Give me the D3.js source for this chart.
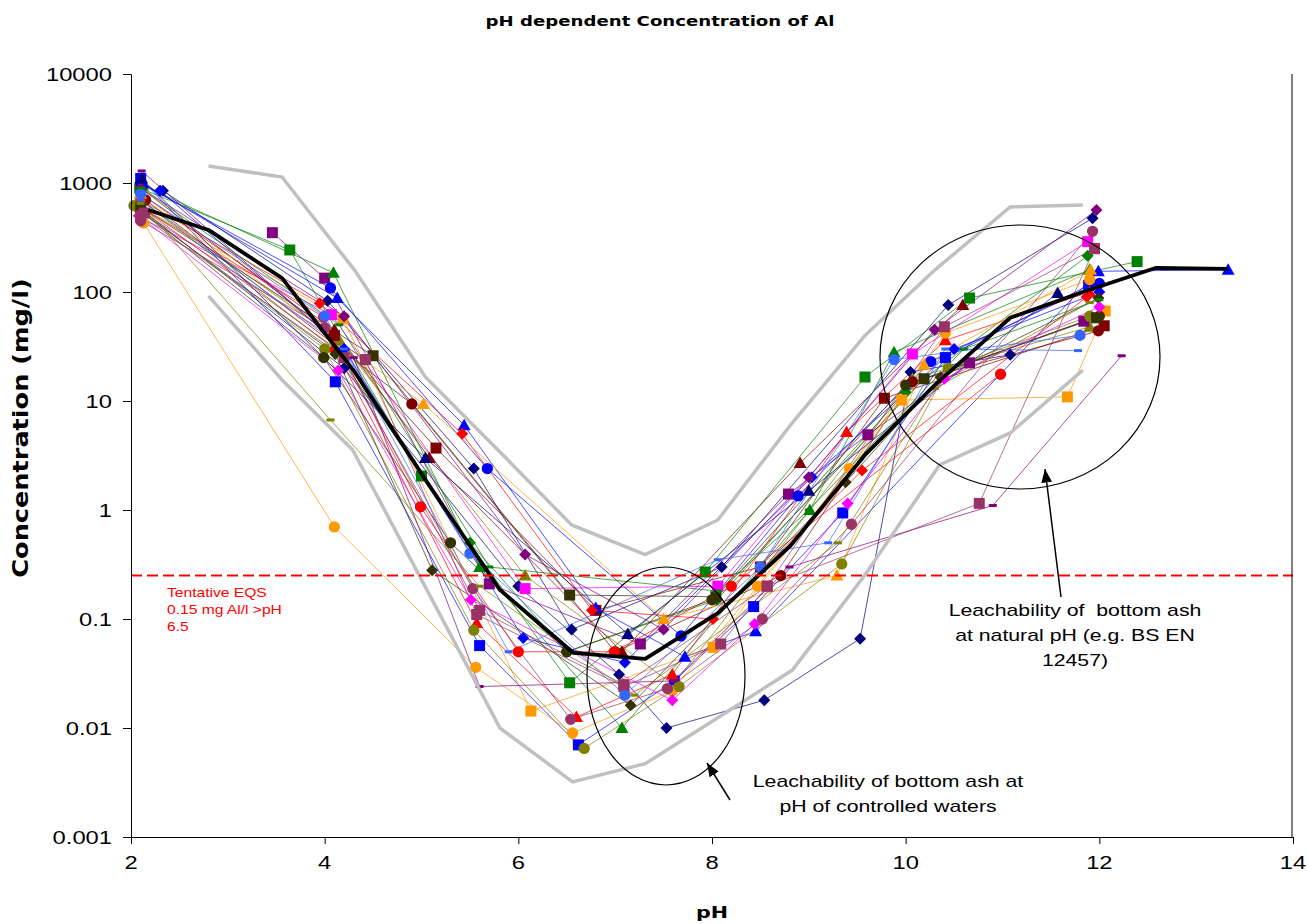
<!DOCTYPE html>
<html><head><meta charset="utf-8">
<script src="https://cdn.jsdelivr.net/npm/d3@7"></script>
<style>body{margin:0;background:#fff}</style>
</head><body><svg id="c" width="1308" height="924"></svg>
<script>
// ---------- data ----------
const xTicks = [2,4,6,8,10,12,14];
const yTicks = [0.001,0.01,0.1,1,10,100,1000,10000];
const yTickLabels = ["0.001","0.01","0.1","1","10","100","1000","10000"];
const eqsValue = 0.25;

const upperEnvelope = [[2.8,1432],[3.56,1135],[4.31,158],[5.04,16.6],[5.81,3.4],[6.55,0.73],[7.31,0.39],[8.06,0.81],[8.81,6.0],[9.58,40],[10.3,159],[11.08,602],[11.83,629]];
const lowerEnvelope = [[2.8,92],[3.56,15.6],[4.29,3.55],[5.09,0.162],[5.81,0.01],[6.56,0.0032],[7.31,0.0047],[8.06,0.0124],[8.83,0.034],[9.58,0.253],[10.35,2.59],[11.08,5.09],[11.83,19.2]];
const medianLine = [[2.18,565],[2.8,371],[3.56,134],[4.31,18.5],[5.09,1.63],[5.81,0.185],[6.57,0.0488],[7.31,0.043],[8.06,0.113],[8.81,0.47],[9.58,3.2],[10.3,14],[11.08,58],[11.83,100],[12.58,166],[13.33,163]];

const s01 = [[2.33,850],[4.03,83],[5.54,2.4],[6.55,0.08],[8.1,0.3],[10.44,76],[11.93,475]];
const s02 = [[2.12,560],[4.2,20],[6.0,0.2],[7.04,0.031],[7.53,0.01],[8.54,0.018],[9.53,0.066],[10.05,18.5],[11.08,26.6]];
const s03 = [[2.1,480],[4.07,62],[6.07,0.19],[8.06,0.2],[10.07,27],[11.88,290]];
const s04 = [[2.1,700],[4.15,36],[6.07,0.25],[7.6,0.025],[10.07,16],[11.9,48]];
const s05 = [[3.46,350],[4.0,134],[5.7,0.21],[7.26,0.059],[8.79,1.4],[9.61,4.9],[10.66,22.4],[11.84,54]];
const s06 = [[2.15,700],[4.9,9.4],[7.0,0.05],[8.71,0.25],[10.07,15],[11.99,44]];
const s07 = [[2.1,900],[4.1,40],[5.15,3.7],[6.8,0.12],[8.5,0.3],[9.78,10.6],[12.05,49]];
const s08 = [[2.1,800],[4.1,45],[5.08,3.0],[7.07,0.05],[8.91,2.7],[10.59,76]];
const s09 = [[2.09,900],[3.64,243],[5.0,2.05],[6.53,0.026],[7.93,0.27],[9.58,16.6],[10.66,88],[12.39,190]];
const s10 = [[2.12,950],[4.09,150],[5.6,0.3],[7.07,0.01],[9.01,1.0],[9.88,28],[11.9,160]];
const s11 = [[2.1,700],[4.1,30],[5.5,0.5],[6.5,0.05],[8.05,0.15],[10.0,12],[11.88,215]];
const s12 = [[2.1,1000],[4.06,109],[5.68,2.4],[7.68,0.07],[8.89,1.35],[10.26,23],[12.0,120]];
const s13 = [[2.1,1100],[4.11,15],[5.6,0.057],[6.62,0.007],[7.61,0.027],[8.43,0.13],[9.35,0.94],[10.41,25],[11.89,115]];
const s14 = [[2.12,1000],[4.13,88],[5.44,6.0],[6.8,0.126],[7.72,0.045],[8.45,0.077],[11.99,155],[13.33,160]];
const s15 = [[2.3,850],[4.2,30],[6.05,0.067],[7.1,0.04],[9.03,2.0],[10.5,30],[12.0,100]];
const s16 = [[2.1,600],[3.99,59],[4.99,1.07],[6.0,0.05],[6.99,0.05],[8.2,0.2],[10.98,17.6]];
const s17 = [[2.1,700],[3.95,79],[5.42,5.0],[6.76,0.12],[8.01,0.1],[9.55,2.3],[11.87,90]];
const s18 = [[2.1,600],[4.1,31],[5.57,0.092],[6.6,0.0126],[7.59,0.031],[9.39,5.2],[10.41,36],[11.9,100]];
const s19 = [[2.13,430],[4.1,0.70],[5.56,0.036],[6.56,0.009],[7.59,0.022],[8.47,0.2],[9.42,2.4],[10.41,42],[11.9,130]];
const s20 = [[2.1,600],[4.19,57],[6.13,0.0143],[8.01,0.055],[9.96,10.2],[11.67,10.9],[12.06,67]];
const s21 = [[2.1,800],[5.02,9.4],[7.5,0.1],[9.29,0.25],[10.19,21.5],[11.91,160]];
const s22 = [[2.03,620],[4.0,30],[5.54,0.079],[6.68,0.0065],[7.66,0.024],[9.34,0.32],[10.44,20],[11.9,60]];
const s23 = [[2.1,600],[4.5,26],[6.53,0.166],[8.04,0.16],[10.19,16],[11.97,58]];
const s24 = [[2.1,550],[3.99,25],[5.3,0.5],[6.5,0.05],[8.0,0.15],[10.0,14],[12.0,60]];
const s25 = [[2.1,550],[4.11,27],[5.11,0.28],[7.16,0.0162],[9.38,1.8],[10.36,16.5],[11.99,88]];
const s26 = [[2.1,900],[4.2,60],[6.07,0.39],[7.5,0.08],[9.0,2.0],[10.3,45],[11.97,565]];
const s27 = [[2.14,530],[4.42,24],[5.57,0.11],[7.09,0.024],[8.09,0.059],[8.57,0.2],[10.4,48],[11.95,250]];
const s28 = [[2.1,450],[4.0,47],[5.53,0.19],[6.54,0.012],[7.54,0.023],[8.52,0.1],[9.44,0.74],[11.93,360]];
const s29 = [[2.08,500],[4.14,19],[5.51,0.15],[7.59,0.018],[8.44,0.09],[9.4,1.15],[10.4,16],[12.0,73]];
const s30 = [[2.1,800],[4.0,60],[5.5,0.4],[7.1,0.02],[8.5,0.3],[9.88,24],[11.8,40]];
const s31 = [[2.11,1290],[4.3,25],[5.6,0.024],[7.6,0.027],[8.8,0.3],[10.9,1.1],[12.23,26]];
const s32 = [[2.1,500],[4.2,25],[5.6,0.12],[7.09,0.025],[8.57,0.2],[10.76,1.15],[11.95,250]];
const s33 = [[2.1,700],[4.2,30],[5.9,0.05],[8.06,0.35],[9.2,0.5],[10.41,30],[11.78,29]];
const s34 = [[2.11,1100],[5.04,3.0],[7.13,0.073],[9.0,1.5],[11.57,98]];
const s35 = [[2.1,650],[4.06,6.7],[5.6,0.2],[7.2,0.02],[9.3,0.5],[10.3,13],[11.9,80]];
const s36 = [[2.1,900],[4.15,50],[5.7,0.3],[8.06,0.18],[9.0,1.0],[10.6,30],[12.0,85]];

const seriesData   = [s01,s02,s03,s04,s05,s06,s07,s08,s09,s10,s11,s12,s13,s14,s15,s16,s17,s18,s19,s20,s21,s22,s23,s24,s25,s26,s27,s28,s29,s30,s31,s32,s33,s34,s35,s36];
const seriesColors = ["#000080","#000080","#FF00FF","#808000","#800080","#800000","#800000","#800000","#008000","#008000","#008000","#0000FF","#0000FF","#0000FF","#0000FF","#FF0000","#FF0000","#FF0000","#FF9900","#FF9900","#FF9900","#808000","#333300","#333300","#333300","#800080","#993366","#993366","#FF00FF","#3366FF","#800080","#993366","#3366FF","#000080","#808000","#008000"];
const seriesMarkers= ["diamond","diamond","square","triangle","square","circle","square","triangle","square","triangle","diamond","circle","square","triangle","diamond","circle","diamond","triangle","circle","square","triangle","circle","square","circle","diamond","diamond","square","circle","diamond","circle","dash","square","dash","triangle","dash","dash"];

// ---------- layout ----------
const svg = d3.select("#c");
const x = d3.scaleLinear().domain([2,14]).range([131,1293]);
const y = d3.scaleLog().domain([0.001,10000]).range([837,74]);
const SX = 1.25;

function markerPath(t){
  switch(t){
    case "square": return "M-5.5,-5.5h11v11h-11Z";
    case "circle": return d3.symbol(d3.symbolCircle, 100)();
    case "triangle": return "M0,-6.5L6.5,5L-6.5,5Z";
    case "diamond": return "M0,-6L6,0L0,6L-6,0Z";
    case "dash": return "M-4,-1.5h8v3h-8Z";
  }
}
const line = d3.line().x(d=>x(d[0])).y(d=>y(d[1]));

// series lines
const gS = svg.append("g");
seriesData.forEach((s,i)=>{
  gS.append("path").attr("d", line(s)).attr("fill","none")
    .attr("stroke", seriesColors[i]).attr("stroke-width",1).attr("stroke-opacity",0.7);
});
seriesData.forEach((s,i)=>{
  gS.selectAll(null).data(s).enter().append("path")
    .attr("d", markerPath(seriesMarkers[i]))
    .attr("transform", d=>`translate(${x(d[0])},${y(d[1])})`)
    .attr("fill", seriesColors[i]);
});

// envelopes & median
[upperEnvelope, lowerEnvelope].forEach(e=>{
  svg.append("path").attr("d", line(e)).attr("fill","none")
    .attr("stroke","#C0C0C0").attr("stroke-width",3.5);
});
svg.append("path").attr("d", line(medianLine)).attr("fill","none")
  .attr("stroke","#000").attr("stroke-width",3.8).attr("stroke-linejoin","round");

// EQS line
svg.append("line").attr("x1",x(2)).attr("x2",x(14)).attr("y1",y(eqsValue)).attr("y2",y(eqsValue))
  .attr("stroke","#FF0000").attr("stroke-width",2).attr("stroke-dasharray","11,5");

// axes
const yAxis = d3.axisLeft(y).tickValues(yTicks).tickFormat(()=>"").tickSizeOuter(0).tickSize(8);
const gy = svg.append("g").attr("transform",`translate(${x(2)},0)`).call(yAxis);
const xAxis = d3.axisBottom(x).tickValues(xTicks).tickFormat(()=>"").tickSizeOuter(0).tickSize(7);
const gx = svg.append("g").attr("transform",`translate(0,${y(0.001)})`).call(xAxis);
[gx,gy].forEach(g=>{g.select(".domain").attr("stroke","#000");g.selectAll(".tick line").attr("stroke","#000");});
svg.append("line").attr("x1",1292).attr("x2",1292).attr("y1",y(10000)).attr("y2",y(0.001)).attr("stroke","#000");

function txt(px,py,str,size,anchor,opts={}){
  const t = svg.append("text")
    .attr("transform",`translate(${px},${py}) scale(${SX},1)`)
    .attr("text-anchor",anchor)
    .attr("font-family", opts.family||"Liberation Sans, Arial, sans-serif")
    .attr("font-size",size).attr("font-weight",opts.bold?"bold":"normal")
    .attr("fill",opts.color||"#000").attr("xml:space","preserve").text(str);
  return t;
}
yTicks.forEach((v,i)=> txt(112, y(v)+7, yTickLabels[i], 19, "end"));
xTicks.forEach(v=> txt(x(v), 869, String(v), 19, "middle"));

txt(660, 26, "pH dependent Concentration of Al", 14.5, "middle", {bold:true, family:"DejaVu Sans, Verdana, sans-serif"});
txt(712, 918, "pH", 16.5, "middle", {bold:true, family:"DejaVu Sans, Verdana, sans-serif"});
svg.append("text").attr("transform",`translate(28,428) rotate(-90) scale(1.55,1.25)`)
  .attr("text-anchor","middle").attr("font-family","DejaVu Sans, Verdana, sans-serif")
  .attr("font-weight","bold").attr("font-size",16.5).text("Concentration (mg/l)");

// EQS note
["Tentative EQS","0.15 mg Al/l >pH","6.5"].forEach((s,i)=> txt(167, 597+i*17, s, 12.5, "start", {color:"#FF0000"}));

// annotations
svg.append("defs").append("marker").attr("id","ah").attr("viewBox","0 0 10 10").attr("refX",10).attr("refY",5)
  .attr("markerWidth",9).attr("markerHeight",9).attr("orient","auto-start-reverse")
  .append("path").attr("d","M0,1L10,5L0,9Z").attr("fill","#000");
svg.append("ellipse").attr("cx",666).attr("cy",676).attr("rx",79).attr("ry",109).attr("fill","none").attr("stroke","#000").attr("stroke-width",1.2);
svg.append("ellipse").attr("cx",1020).attr("cy",357).attr("rx",140).attr("ry",132).attr("fill","none").attr("stroke","#000").attr("stroke-width",1.2);
svg.append("line").attr("x1",730).attr("y1",800).attr("x2",707).attr("y2",763).attr("stroke","#000").attr("stroke-width",1.5).attr("marker-end","url(#ah)");
svg.append("line").attr("x1",1061).attr("y1",597).attr("x2",1045).attr("y2",469).attr("stroke","#000").attr("stroke-width",1.5).attr("marker-end","url(#ah)");
txt(888, 787, "Leachability of bottom ash at", 17, "middle");
txt(888, 812, "pH of controlled waters", 17, "middle");
txt(1075, 616, "Leachability of  bottom ash", 17, "middle");
txt(1075, 641, "at natural pH (e.g. BS EN", 17, "middle");
txt(1075, 666, "12457)", 17, "middle");
</script></body></html>
